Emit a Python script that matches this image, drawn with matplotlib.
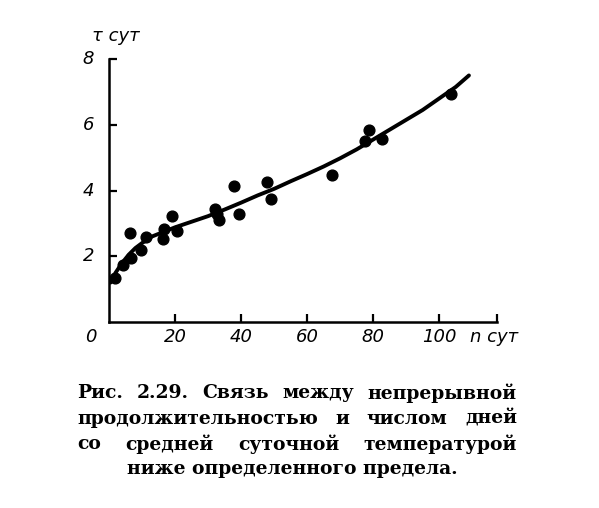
import matplotlib
matplotlib.use("Agg")
import matplotlib.pyplot as plt

# measured points (n days, tau days)
n_pts = [1.8, 4.3, 6.7, 6.4, 9.6, 11.2, 16.3, 16.8, 19.2, 20.5, 32.1, 32.6,
         33.4, 38.0, 39.4, 47.8, 49.2, 67.5, 77.4, 78.6, 82.8, 103.6]
tau_pts = [1.35, 1.73, 1.94, 2.7, 2.19, 2.6, 2.52, 2.82, 3.22, 2.77, 3.45, 3.27,
           3.1, 4.13, 3.27, 4.27, 3.74, 4.47, 5.5, 5.84, 5.58, 6.93]

# fitted curve
n_curve = [0.5, 2, 4, 6, 8, 10, 13, 16, 20, 25, 30, 35, 40, 45, 50, 55, 60,
           65, 70, 75, 80, 85, 90, 95, 100, 105, 109]
tau_curve = [1.2, 1.5, 1.8, 2.05, 2.25, 2.4, 2.6, 2.72, 2.88, 3.05, 3.22, 3.42,
             3.63, 3.85, 4.05, 4.28, 4.5, 4.73, 4.98, 5.25, 5.55, 5.85, 6.15,
             6.45, 6.8, 7.15, 7.5]

x_ticks = [20, 40, 60, 80, 100]
y_ticks = [2, 4, 6, 8]

caption = [
    "Рис. 2.29. Связь между непрерывной",
    "продолжительностью и числом дней",
    "со средней суточной температурой",
    "ниже определенного предела.",
]

W, H = 599, 508
fig = plt.figure(figsize=(W / 100, H / 100), dpi=100)

x0, x1 = 109, 497
y0, y1 = 322, 59
ax = fig.add_axes([x0 / W, 1 - y0 / H, (x1 - x0) / W, (y0 - y1) / H])
ax.set_xlim(0, 117.5)
ax.set_ylim(0, 8)

ax.plot(n_curve, tau_curve, color="black", lw=2.8, solid_capstyle="round")
ax.scatter(n_pts, tau_pts, s=60, color="black", zorder=3)

for s in ["top", "right"]:
    ax.spines[s].set_visible(False)
for s in ["left", "bottom"]:
    ax.spines[s].set_linewidth(1.8)

ax.set_xticks(x_ticks + [117.5])
ax.set_xticklabels([])
ax.set_yticks(y_ticks)
ax.set_yticklabels([])
ax.tick_params(direction="in", length=6, width=1.6)

tfont = dict(family="DejaVu Sans", style="italic", fontsize=13, color="black")
for v in x_ticks:
    ax.text(v, -0.45, str(v), ha="center", va="center", **tfont)
for v in y_ticks:
    ax.text(-4.5, v, str(v), ha="right", va="center", **tfont)
ax.text(-5.5, -0.45, "0", ha="center", va="center", **tfont)
ax.text(116.5, -0.45, "n сут", ha="center", va="center", **tfont)
ax.text(2, 8.7, "τ сут", ha="center", va="center", clip_on=False, **tfont)

# caption, justified by hand for the first three lines
cfont = dict(family="DejaVu Serif", fontweight="bold", fontsize=13.5)
left, right = 77, 517
line_y = [393, 419, 444, 469]
fig.canvas.draw()
r = fig.canvas.get_renderer()
for i, line in enumerate(caption):
    yy = 1 - line_y[i] / H
    if i == 3:
        fig.text(292 / W, yy, line, ha="center", va="center", **cfont)
        continue
    words = line.split()
    arts = [fig.text(0, yy, w, ha="left", va="center", **cfont) for w in words]
    widths = [a.get_window_extent(r).width for a in arts]
    gap = (right - left - sum(widths)) / (len(words) - 1)
    xx = left
    for a, w in zip(arts, widths):
        a.set_x(xx / W)
        xx += w + gap

fig.savefig("out.png", dpi=100)
